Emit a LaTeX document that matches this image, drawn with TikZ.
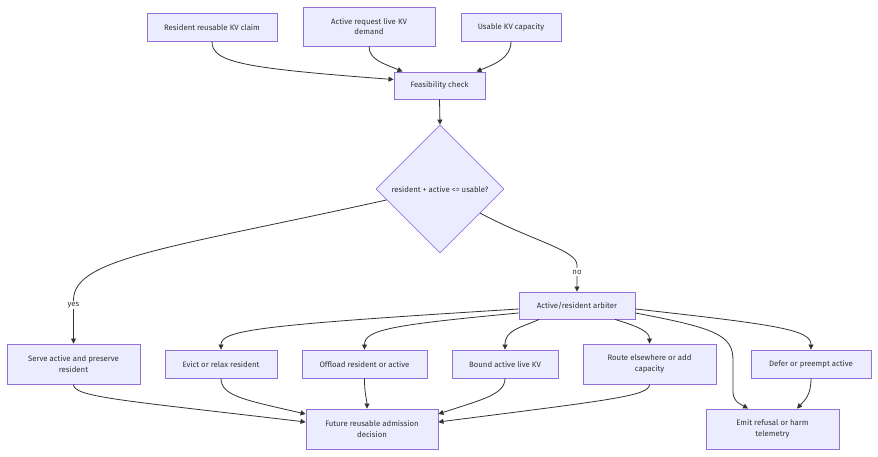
\documentclass[tikz,border=0pt]{standalone}
\usepackage{fontspec}
\setmainfont{Fira Sans}
\usetikzlibrary{shapes.geometric,arrows.meta,calc}
\definecolor{nfill}{HTML}{ECECFF}
\definecolor{nborder}{HTML}{9370DB}
\definecolor{ink}{HTML}{333333}
\tikzset{
  box/.style={draw=nborder, fill=nfill, line width=0.9pt, text=ink,
    font=\fontsize{7.8}{10.8}\selectfont, align=center, inner sep=0pt, minimum height=28pt},
  dec/.style={diamond, draw=nborder, fill=nfill, line width=0.8pt, text=ink,
    font=\fontsize{7.8}{10.8}\selectfont, minimum width=128pt, minimum height=128pt, inner sep=0pt},
  conn/.style={draw=ink, line width=0.8pt, -{Triangle[length=5pt,width=5pt]}},
  elabel/.style={fill=white, text=ink, font=\fontsize{7.8}{9}\selectfont, inner sep=1.5pt}
}
\begin{document}
\begin{tikzpicture}[x=1pt,y=-1pt]
\fill[white] (0,0) rectangle (878,456);
\useasboundingbox (0,0) rectangle (878,456);

\node[box, minimum width=130pt] (res) at (212,27) {Resident reusable KV claim};
\node[box, minimum width=132pt, minimum height=39pt] (dem) at (369,26.5) {Active request live KV\\demand};
\node[box, minimum width=100pt] (use) at (511,27) {Usable KV capacity};
\node[box, minimum width=91pt, minimum height=27pt] (feas) at (439.5,85.5) {Feasibility check};
\node[dec] (dia) at (440,189) {resident + active <= usable?};
\node[box, minimum width=116pt, minimum height=27pt] (arb) at (577,305.5) {Active/resident arbiter};
\node[box, minimum width=133pt, minimum height=40pt] (serve) at (73.5,364) {Serve active and preserve\\resident};
\node[box, minimum width=112pt] (evict) at (221,364) {Evict or relax resident};
\node[box, minimum width=125pt] (off) at (364.5,364) {Offload resident or active};
\node[box, minimum width=106pt] (bound) at (505,364) {Bound active live KV};
\node[box, minimum width=133pt, minimum height=40pt] (route) at (649.5,364) {Route elsewhere or add\\capacity};
\node[box, minimum width=120pt] (defer) at (811,364) {Defer or preempt active};
\node[box, minimum width=132pt, minimum height=40pt] (fut) at (372,429) {Future reusable admission\\decision};
\node[box, minimum width=133pt, minimum height=40pt] (emit) at (772.5,429) {Emit refusal or harm\\telemetry};

% top inputs
\draw[conn] (res.south) .. controls (212,62) and (240,68) .. ([yshift=6pt]feas.west);
\draw[conn] (dem.south) .. controls (369,60) and (385,64) .. ([xshift=-37pt]feas.north);
\draw[conn] (use.south) .. controls (511,58) and (495,64) .. ([xshift=37pt]feas.north);
\draw[conn] (feas.south) -- (dia.north);

% decision
\draw[conn] ($(dia.west)!0.17!(dia.south)$) .. controls (170,248) and (73.5,258) .. (73.5,300) -- (serve.north);
\draw[conn] ($(dia.east)!0.375!(dia.south)$) .. controls (530,240) and (577,250) .. (577,265) -- (arb.north);

% arbiter fan-out
\draw[conn] ([yshift=-3.5pt]arb.west) .. controls (260,325) and (221,330) .. (evict.north);
\draw[conn] ([yshift=-7.5pt]arb.west) .. controls (390,325) and (364.5,330) .. (off.north);
\draw[conn] ([xshift=-38pt]arb.south) .. controls (520,328) and (505,330) .. (bound.north);
\draw[conn] ([xshift=38pt]arb.south) .. controls (640,327) and (649.5,332) .. (route.north);
\draw[conn] ([yshift=-7.5pt]arb.east) .. controls (715,328) and (733,335) .. (733,360) -- (733,392) .. controls (733,402) and (742,405) .. ([xshift=-24.5pt]emit.north);
\draw[conn] ([yshift=-3.5pt]arb.east) .. controls (780,325) and (811,330) .. (defer.north);

% into future decision
\draw[conn] (serve.south) .. controls (73.5,397) and (120,400) .. ([yshift=7pt]fut.west);
\draw[conn] (evict.south) .. controls (221,396) and (245,400) .. ([yshift=15pt]fut.west);
\draw[conn] (off.south) .. controls (364.5,395) and (367,400) .. ([xshift=-5pt]fut.north);
\draw[conn] (bound.south) .. controls (505,395) and (480,400) .. ([yshift=15pt]fut.east);
\draw[conn] (route.south) .. controls (649.5,396) and (610,400) .. ([yshift=7pt]fut.east);
\draw[conn] (defer.south) .. controls (811,395) and (805,400) .. ([xshift=24.5pt]emit.north);

% edge labels
\node[elabel] (lyes) at (73.5,305) {yes};
\node[elabel] (lno) at (577,272) {no};
\end{tikzpicture}
\end{document}
